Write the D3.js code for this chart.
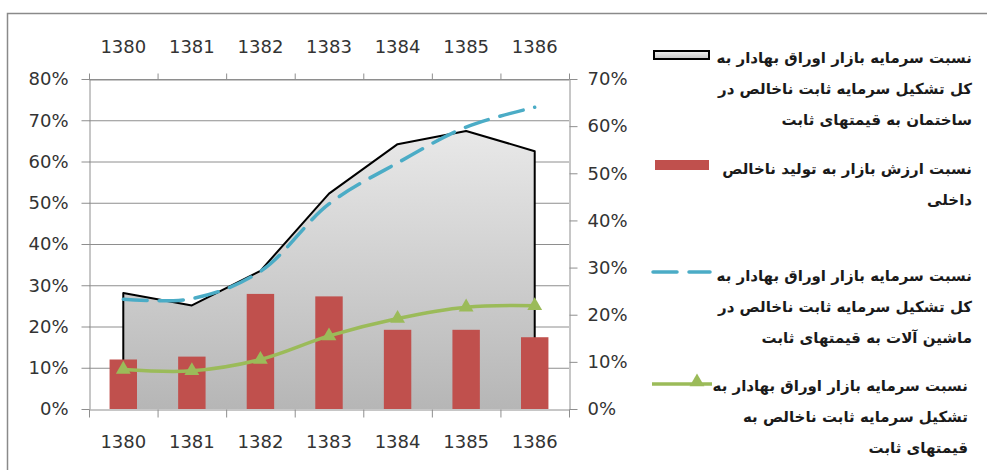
<!DOCTYPE html>
<html>
<head>
<meta charset="utf-8">
<script src="https://cdn.jsdelivr.net/npm/d3@7"></script>
<style>
  html, body { margin: 0; padding: 0; background: #ffffff; }
  svg { display: block; }
  .tick text { font-family: "DejaVu Sans", sans-serif; font-size: 18px; fill: #333333; }
  .legend text { font-family: "DejaVu Sans", sans-serif; font-size: 15px; font-weight: bold; fill: #1a1a1a; }
</style>
</head>
<body>
<svg id="chart" width="987" height="470"></svg>
<script>
// Years (Iranian calendar)
const years = ["1380", "1381", "1382", "1383", "1384", "1385", "1386"];

// Market capitalisation / gross fixed capital formation in buildings (area, left axis)
const buildingShare = [0.281, 0.251, 0.335, 0.522, 0.642, 0.674, 0.625];
// Market value / GDP (bars, left axis)
const marketToGdp = [0.120, 0.127, 0.279, 0.273, 0.192, 0.192, 0.174];
// Market capitalisation / gross fixed capital formation in machinery (dashed, right axis)
const machineryShare = [0.233, 0.234, 0.292, 0.435, 0.522, 0.598, 0.640];
// Market capitalisation / total gross fixed capital formation (green, right axis)
const totalShare = [0.084, 0.081, 0.105, 0.155, 0.192, 0.216, 0.219];

const leftTicks = [0, 0.1, 0.2, 0.3, 0.4, 0.5, 0.6, 0.7, 0.8];
const rightTicks = [0, 0.1, 0.2, 0.3, 0.4, 0.5, 0.6, 0.7];

const legendArea = ["نسبت سرمایه بازار اوراق بهادار به", "کل تشکیل سرمایه ثابت ناخالص در", "ساختمان به قیمتهای ثابت"];
const legendBars = ["نسبت ارزش بازار به تولید ناخالص", "داخلی"];
const legendDashed = ["نسبت سرمایه بازار اوراق بهادار به", "کل تشکیل سرمایه ثابت ناخالص در", "ماشین آلات به قیمتهای ثابت"];
const legendGreen = ["نسبت سرمایه بازار اوراق بهادار به", "تشکیل سرمایه ثابت ناخالص به", "قیمتهای ثابت"];

const svg = d3.select("#chart");
const plot = { left: 89, right: 569, top: 79, bottom: 409 };
const gridColor = "#8e8e8e";
const barColor = "#c0504d";
const dashColor = "#4bacc6";
const greenColor = "#9bbb59";

// Outer frame
svg.append("rect")
  .attr("x", 7.5).attr("y", 13.5).attr("width", 1000).attr("height", 500)
  .attr("fill", "#ffffff").attr("stroke", "#8a8a8a").attr("stroke-width", 1.5);

// Scales
const x = d3.scaleBand().domain(years).range([plot.left, plot.right]);
const xBar = d3.scaleBand().domain(years).range([plot.left, plot.right])
  .paddingInner(0.6).paddingOuter(0.3);
const xEdge = d3.scaleLinear().domain([0, years.length]).range([plot.left, plot.right]);
const yL = d3.scaleLinear().domain([0, 0.8]).range([plot.bottom, plot.top]);
const yR = d3.scaleLinear().domain([0, 0.7]).range([plot.bottom, plot.top]);
const cx = d => x(d) + x.bandwidth() / 2;

// Gradient for the area series
const defs = svg.append("defs");
const grad = defs.append("linearGradient").attr("id", "areaFill")
  .attr("gradientUnits", "userSpaceOnUse")
  .attr("x1", 0).attr("y1", plot.top).attr("x2", 0).attr("y2", plot.bottom);
grad.append("stop").attr("offset", "0%").attr("stop-color", "#f2f2f2");
grad.append("stop").attr("offset", "100%").attr("stop-color", "#b6b6b6");
const gradL = defs.append("linearGradient").attr("id", "areaFillLegend")
  .attr("x1", 0).attr("y1", 0).attr("x2", 0).attr("y2", 1);
gradL.append("stop").attr("offset", "0%").attr("stop-color", "#f2f2f2");
gradL.append("stop").attr("offset", "100%").attr("stop-color", "#c4c4c4");

// Horizontal gridlines
svg.append("g").selectAll("line")
  .data(leftTicks.filter(d => d > 0))
  .join("line")
  .attr("x1", plot.left).attr("x2", plot.right)
  .attr("y1", d => yL(d) + 0.5).attr("y2", d => yL(d) + 0.5)
  .attr("stroke", gridColor).attr("stroke-width", 1);

// Area series
const areaData = years.map((y, i) => ({ year: y, v: buildingShare[i] }));
const area = d3.area().x(d => cx(d.year)).y0(yL(0)).y1(d => yL(d.v));
svg.append("path").datum(areaData)
  .attr("d", area).attr("fill", "url(#areaFill)");
const outline = [{ year: years[0], v: 0 }, ...areaData, { year: years[years.length - 1], v: 0 }];
svg.append("path").datum(outline)
  .attr("d", d3.line().x(d => cx(d.year)).y(d => yL(d.v)))
  .attr("fill", "none").attr("stroke", "#000000").attr("stroke-width", 2)
  .attr("stroke-linejoin", "round");

// Bars
svg.append("g").selectAll("rect")
  .data(years.map((y, i) => ({ year: y, v: marketToGdp[i] })))
  .join("rect")
  .attr("x", d => xBar(d.year)).attr("width", xBar.bandwidth())
  .attr("y", d => yL(d.v)).attr("height", d => yL(0) - yL(d.v))
  .attr("fill", barColor);

// Axes
function styleAxis(g) {
  g.select(".domain").attr("stroke", gridColor).attr("stroke-width", 1);
  g.selectAll(".tick line").attr("stroke", gridColor).attr("stroke-width", 1);
}
svg.append("g").attr("transform", `translate(${plot.left + 0.5},0)`)
  .call(d3.axisLeft(yL).tickValues(leftTicks).tickFormat(d3.format(".0%"))
    .tickSize(8).tickPadding(13).tickSizeOuter(0))
  .call(styleAxis);
svg.append("g").attr("transform", `translate(${plot.right + 0.5},0)`)
  .call(d3.axisRight(yR).tickValues(rightTicks).tickFormat(d3.format(".0%"))
    .tickSize(8).tickPadding(10).tickSizeOuter(0))
  .call(styleAxis);

// Bottom and top category axes: labels centred on bands, ticks on band edges
svg.append("g").attr("transform", `translate(0,${plot.bottom + 0.5})`)
  .call(d3.axisBottom(xEdge).tickValues(d3.range(years.length + 1)).tickFormat("")
    .tickSize(8).tickSizeOuter(0))
  .call(styleAxis);
svg.append("g").attr("transform", `translate(0,${plot.bottom})`)
  .call(d3.axisBottom(x).tickSize(0).tickPadding(26))
  .call(g => g.select(".domain").remove());
svg.append("g").attr("transform", `translate(0,${plot.top + 0.5})`)
  .call(d3.axisTop(xEdge).tickValues(d3.range(years.length + 1)).tickFormat("")
    .tickSize(6).tickSizeOuter(0))
  .call(styleAxis);
svg.append("g").attr("transform", `translate(0,${plot.top})`)
  .call(d3.axisTop(x).tickSize(0).tickPadding(26))
  .call(g => g.select(".domain").remove());

// Dashed smoothed line (right axis)
svg.append("path")
  .datum(years.map((y, i) => ({ year: y, v: machineryShare[i] })))
  .attr("d", d3.line().x(d => cx(d.year)).y(d => yR(d.v)).curve(d3.curveCatmullRom.alpha(0.5)))
  .attr("fill", "none").attr("stroke", dashColor).attr("stroke-width", 3.5)
  .attr("stroke-dasharray", "24,12").attr("stroke-linecap", "round");

// Green smoothed line with triangle markers (right axis)
const greenData = years.map((y, i) => ({ year: y, v: totalShare[i] }));
svg.append("path").datum(greenData)
  .attr("d", d3.line().x(d => cx(d.year)).y(d => yR(d.v)).curve(d3.curveCatmullRom.alpha(0.5)))
  .attr("fill", "none").attr("stroke", greenColor).attr("stroke-width", 3.5);
const tri = d3.symbol(d3.symbolTriangle).size(95);
svg.append("g").selectAll("path")
  .data(greenData).join("path")
  .attr("transform", d => `translate(${cx(d.year)},${yR(d.v)})`)
  .attr("d", tri).attr("fill", greenColor);

// Legend
const legend = svg.append("g").attr("class", "legend");
const lineGap = 31;
function legendText(lines, top, right) {
  legend.append("g").selectAll("text")
    .data(lines).join("text")
    .attr("x", right).attr("y", (d, i) => top + i * lineGap + 6)
    .attr("text-anchor", "end")
    .text(d => d);
}
legend.append("rect").attr("x", 654).attr("y", 51).attr("width", 55).attr("height", 8)
  .attr("fill", "url(#areaFillLegend)").attr("stroke", "#000").attr("stroke-width", 2);
legendText(legendArea, 57, 972);

legend.append("rect").attr("x", 655).attr("y", 160).attr("width", 54).attr("height", 10)
  .attr("fill", barColor);
legendText(legendBars, 168, 972);

legend.append("line").attr("x1", 653).attr("x2", 710).attr("y1", 272).attr("y2", 272)
  .attr("stroke", dashColor).attr("stroke-width", 3.5)
  .attr("stroke-dasharray", "24,12").attr("stroke-linecap", "round");
legendText(legendDashed, 275, 972);

legend.append("line").attr("x1", 652).attr("x2", 712).attr("y1", 384).attr("y2", 384)
  .attr("stroke", greenColor).attr("stroke-width", 3.5);
legend.append("path").attr("transform", "translate(697,382)").attr("d", tri).attr("fill", greenColor);
legendText(legendGreen, 385, 968);
</script>
</body>
</html>
